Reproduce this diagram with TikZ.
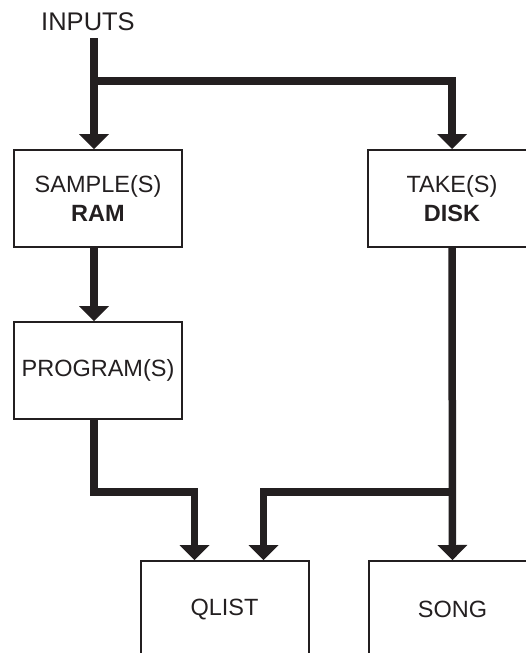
\documentclass[tikz,border=0pt]{standalone}
\usepackage{fontspec}
\setmainfont{Liberation Sans}
\usetikzlibrary{arrows.meta,positioning}
\definecolor{ink}{RGB}{35,31,32}
\tikzset{
flowbox/.style={rectangle,draw=ink,line width=2pt,text=ink,minimum width=168pt,
  minimum height=97pt,inner sep=0pt,align=center,font=\fontsize{23.5}{29}\selectfont},
flowline/.style={line width=7.5pt,draw=ink},
flowarr/.style={flowline,-{Triangle[width=30pt,length=15pt,line width=0pt]}}
}

\begin{document}
\begin{tikzpicture}[x=1pt,y=-1pt]
\useasboundingbox (0,0) rectangle (526,653);
\clip (0,0) rectangle (526,653);
\node[text=ink,inner sep=0pt,font=\fontsize{25.5}{30}\selectfont] (inputs) at (88,22) {INPUTS};
\node[flowbox] (sample) at (98,198.5) {SAMPLE(S)\\\textbf{RAM}};
\node[flowbox,below=73pt of sample] (program) {PROGRAM(S)};
\node[flowbox,right=184pt of sample] (take) {TAKE(S)\\\textbf{DISK}};
\node[flowbox] (qlist) at (224.5,609.5) {QLIST};
\node[flowbox,right=58pt of qlist] (song) {SONG};
\coordinate (split) at (94,81);
\coordinate (lbend) at (94,492);
\draw[flowarr] ([yshift=-7pt]inputs.south -| split) -- (split |- sample.north);
\draw[flowarr] (split) -| (take.north);
\draw[flowarr] (sample.south -| split) -- (program.north -| split);
\draw[flowarr] (program.south -| split) -- (lbend) -| ([xshift=-30pt]qlist.north);
\draw[flowarr] (take.south) -- (song.north);
\draw[flowarr] (take.south |- lbend) -| ([xshift=39pt]qlist.north);
\end{tikzpicture}
\end{document}
